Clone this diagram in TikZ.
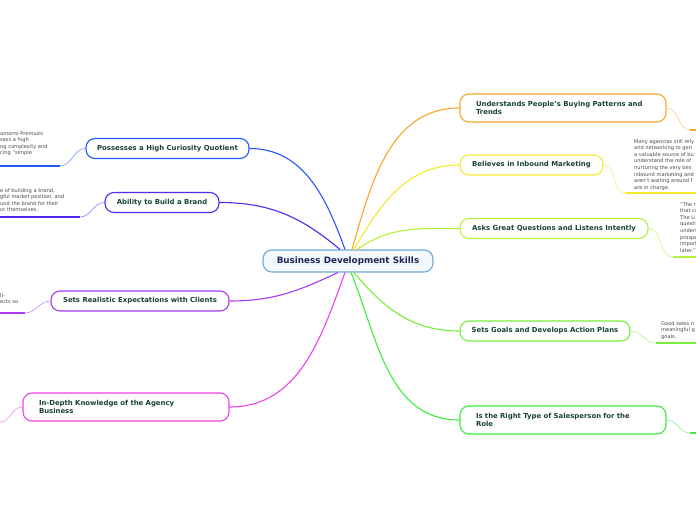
\documentclass[tikz,border=0pt]{standalone}
\usepackage{fontspec}
\setmainfont{DejaVu Sans}
\usepackage{xcolor}
\definecolor{cCentre}{HTML}{6FA8DC}
\definecolor{cOrange}{HTML}{FBA62A}
\definecolor{cYellow}{HTML}{F7E92E}
\definecolor{cLime}{HTML}{B6F23A}
\definecolor{cLgreen}{HTML}{77EE3A}
\definecolor{cGreen}{HTML}{3DEE3D}
\definecolor{cBlue}{HTML}{2457FA}
\definecolor{cViolet}{HTML}{5128EC}
\definecolor{cPurple}{HTML}{A93BF5}
\definecolor{cMagenta}{HTML}{F043EA}
\definecolor{nodetext}{HTML}{17433A}
\definecolor{leaftext}{HTML}{4A4A4A}

\begin{document}
\begin{tikzpicture}[x=1pt,y=1pt,
  topic/.style={draw=#1,line width=1.1pt,rounded corners=9pt,fill=white,minimum height=20pt,
    inner xsep=8pt,text=nodetext,font=\bfseries\fontsize{6.9}{8.8}\selectfont},
  twoline/.style={text width=174pt,align=left,minimum height=28pt,inner xsep=16pt},
  leaf/.style={anchor=north west,inner sep=0pt,align=left,text=leaftext,font=\fontsize{5.1}{6.6}\selectfont},
  spoke/.style={draw=#1,line width=1.1pt},
  twig/.style={draw=#1!55,line width=0.7pt},
  leafline/.style={draw=#1,line width=1.6pt}]
  \useasboundingbox (0,0) rectangle (696,520);
  \fill[white] (0,0) rectangle (696,520);
  \clip (0,0) rectangle (696,520);

  \node[draw=cCentre,line width=1.1pt,fill=cCentre!8,rounded corners=9pt,minimum width=170pt,minimum height=22pt,
    text={rgb,255:red,27;green,40;blue,86},font=\bfseries\fontsize{8.8}{10}\selectfont] (skills) at (348,259) {Business Development Skills};

  \node[topic=cOrange,twoline] (buying) at (563,412) {Understands People's Buying Patterns and\\Trends};
  \node[topic=cYellow,minimum width=143pt] (inbound) at (531.5,355) {Believes in Inbound Marketing};
  \node[topic=cLime,minimum width=188pt] (questions) at (554,291.5) {Asks Great Questions and Listens Intently};
  \node[topic=cLgreen,minimum width=170pt] (goals) at (545,189) {Sets Goals and Develops Action Plans};
  \node[topic=cGreen,twoline] (salesperson) at (563,100) {Is the Right Type of Salesperson for the\\Role};
  \node[topic=cBlue,minimum width=163pt] (curiosity) at (167.5,371.5) {Possesses a High Curiosity Quotient};
  \node[topic=cViolet,minimum width=114pt] (brand) at (162,317.5) {Ability to Build a Brand};
  \node[topic=cPurple,minimum width=178pt] (expect) at (140,219) {Sets Realistic Expectations with Clients};
  \node[topic=cMagenta,twoline] (agency) at (126,113) {In-Depth Knowledge of the Agency\\Business};

  \draw[spoke=cOrange] ([xshift=4pt]skills.north) to[out=74,in=180] (buying.west);
  \draw[spoke=cYellow] ([xshift=6pt]skills.north) to[out=60,in=180] (inbound.west);
  \draw[spoke=cLime] ([xshift=9pt]skills.north) to[out=35,in=180] (questions.west);
  \draw[spoke=cBlue] ([xshift=-3pt]skills.north) to[out=110,in=0] (curiosity.east);
  \draw[spoke=cViolet] ([xshift=-8pt]skills.north) to[out=140,in=0] (brand.east);
  \draw[spoke=cPurple] ([xshift=-10pt]skills.south) to[out=205,in=0] (expect.east);
  \draw[spoke=cMagenta] ([xshift=-3pt]skills.south) to[out=250,in=0] (agency.east);
  \draw[spoke=cLgreen] ([xshift=6pt]skills.south) to[out=-50,in=180] (goals.west);
  \draw[spoke=cGreen] ([xshift=3pt]skills.south) to[out=-68,in=180] (salesperson.west);

  \node[leaf] (inboundtxt) at (634,381) {Many agencies still rely\\and networking to gen\\a valuable source of bu\\understand the role of\\nurturing the very bes\\inbound marketing and\\aren't waiting around f\\are in charge.};
  \node[leaf] (questionstxt) at (680,318) {"The r\\that ca\\The Li\\questi\\unders\\prospe\\import\\later."};
  \node[leaf] (goalstxt) at (661,199) {Good sales n\\meaningful g\\goals.};
  \node[leaf] (curiositytxt) at (0,389) {amorro-Premuzic\\sess a high\\ng complexity and\\cing "simple};
  \node[leaf] (brandtxt) at (0,332) {e of building a brand,\\gful market position, and\\und the brand for their\\or themselves.};
  \node[leaf] (expecttxt) at (0,227) {ll-\\ects so};

  \coordinate (buyingend) at (690,390);
  \coordinate (inboundend) at (625,327);
  \coordinate (questionsend) at (673,263);
  \coordinate (goalsend) at (656,177);
  \coordinate (salespersonend) at (690,87);
  \coordinate (curiosityend) at (60,354);
  \coordinate (brandend) at (80,303);
  \coordinate (expectend) at (25,207);
  \coordinate (agencyend) at (0,98);

  \draw[twig=cOrange] (buying.east) to[out=0,in=180] (buyingend);
  \draw[twig=cYellow] (inbound.east) to[out=0,in=180] (inboundend);
  \draw[twig=cLime] (questions.east) to[out=0,in=180] (questionsend);
  \draw[twig=cLgreen] (goals.east) to[out=0,in=180] (goalsend);
  \draw[twig=cGreen] (salesperson.east) to[out=0,in=180] (salespersonend);
  \draw[twig=cBlue] (curiosity.west) to[out=180,in=0] (curiosityend);
  \draw[twig=cViolet] (brand.west) to[out=180,in=0] (brandend);
  \draw[twig=cPurple] (expect.west) to[out=180,in=0] (expectend);
  \draw[twig=cMagenta] (agency.west) to[out=180,in=0] (agencyend);

  \draw[leafline=cOrange] (buyingend) -- (buyingend -| 700,0);
  \draw[leafline=cYellow] (inboundend) -- (inboundend -| 700,0);
  \draw[leafline=cLime] (questionsend) -- (questionsend -| 700,0);
  \draw[leafline=cLgreen] (goalsend) -- (goalsend -| 700,0);
  \draw[leafline=cGreen] (salespersonend) -- (salespersonend -| 700,0);
  \draw[leafline=cBlue] (curiosityend) -- (curiosityend -| -4,0);
  \draw[leafline=cViolet] (brandend) -- (brandend -| -4,0);
  \draw[leafline=cPurple] (expectend) -- (expectend -| -4,0);
\end{tikzpicture}
\end{document}
